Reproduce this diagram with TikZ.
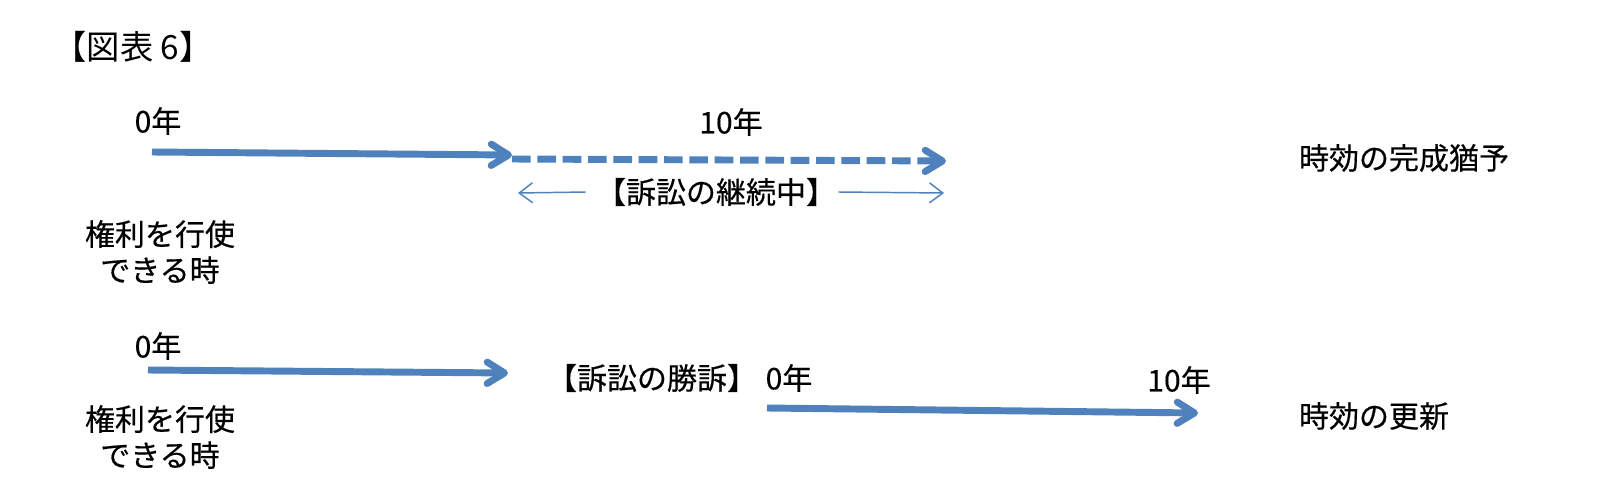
\documentclass[tikz,border=0pt]{standalone}
\usepackage{fontspec}
\newfontfamily\jp[FakeBold=0.4]{Noto Sans CJK JP}
\newfontfamily\jptitle{Noto Sans CJK JP}
\usetikzlibrary{arrows.meta}
\definecolor{ablue}{RGB}{79,129,189}
\begin{document}
\begin{tikzpicture}[x=0.75pt,y=-0.75pt,
  lbl/.style={font=\jp\fontsize{22.5}{27}\selectfont, inner sep=0pt, align=center},
  ttl/.style={font=\jptitle\fontsize{25}{30}\selectfont, inner sep=0pt},
  thickarrow/.style={draw=ablue, line width=5.2pt, -{Straight Barb[length=13pt,width=16pt,round]}},
  thinarrow/.style={draw=ablue, line width=1.1pt, -{Straight Barb[length=10pt,width=15pt]}},
  dasharrow/.style={thickarrow, dash pattern=on 14pt off 5pt}]
\useasboundingbox (0,0) rectangle (1602,489);
% texts
\node[ttl] (title) at (133,47) {【図表 6】};
\node[lbl] (t0a) at (158,121) {0年};
\node[lbl] (t10a) at (731,122) {10年};
\node[lbl] (cont) at (716,192) {【訴訟の継続中】};
\node[lbl] (susp) at (1404,158) {時効の完成猶予};
\node[lbl] (righta) at (160,252) {権利を行使\\できる時};
\node[lbl] (t0b) at (158,346) {0年};
\node[lbl] (win) at (652,378) {【訴訟の勝訴】};
\node[lbl] (t0c) at (789,378) {0年};
\node[lbl] (t10c) at (1179,380) {10年};
\node[lbl] (renew) at (1374,416) {時効の更新};
\node[lbl] (rightb) at (160,437) {権利を行使\\できる時};
% arrow end points
\coordinate (a1s) at (152,152);
\coordinate (a1e) at (512,155);
\coordinate (d1s) at (512,159);
\coordinate (d1e) at (946,161);
\coordinate (l1) at (518,193);
\coordinate (r1) at (944,193);
\coordinate (a2s) at (148,370);
\coordinate (a2e) at (508,373);
\coordinate (a3s) at (767,408);
\coordinate (a3e) at (1198,413);
% connectors
\draw[thickarrow] (a1s) -- (a1e);
\draw[dasharrow] (d1s) -- (d1e);
\draw[thinarrow] (cont.west) ++(-10,0) coordinate (cl) (cl) -- (l1);
\draw[thinarrow] (cont.east) ++(2,0) coordinate (cr) (cr) -- (r1);
\draw[thickarrow] (a2s) -- (a2e);
\draw[thickarrow] (a3s) -- (a3e);
\end{tikzpicture}
\end{document}
